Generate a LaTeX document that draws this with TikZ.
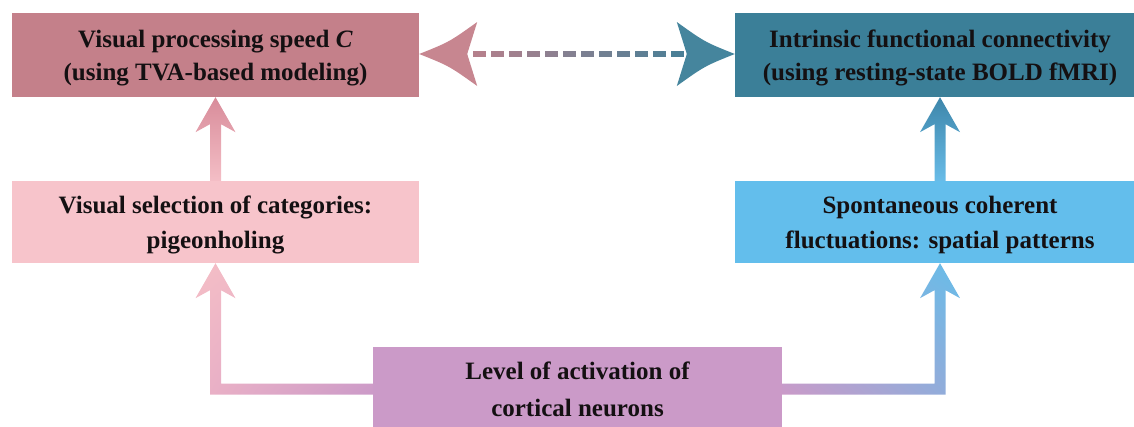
\documentclass[tikz,border=0pt]{standalone}
\usepackage{fontspec}
\setmainfont{Liberation Serif}
\usetikzlibrary{calc,shadings}

\definecolor{speedcol}{RGB}{196,128,138}
\definecolor{conncol}{RGB}{59,127,152}
\definecolor{selcol}{RGB}{247,196,203}
\definecolor{fluctcol}{RGB}{99,190,236}
\definecolor{levelcol}{RGB}{203,154,200}
\definecolor{textcol}{RGB}{20,16,18}
% arrow colours
\definecolor{selarrow}{RGB}{244,190,198}
\definecolor{speedarrow}{RGB}{216,140,154}
\definecolor{fluctarrow}{RGB}{104,188,232}
\definecolor{connarrow}{RGB}{62,134,170}
\definecolor{leftmid}{RGB}{236,178,198}
\definecolor{rightmid}{RGB}{140,174,220}

\tikzset{
	flowbox/.style={rectangle, inner sep=0pt, minimum height=84pt, align=center,
		text=textcol, text height=#1pt+17pt, text depth=0pt,
		font=\bfseries\fontsize{25}{#1}\selectfont},
	flowbox/.default=33,
}

\begin{document}
\begin{tikzpicture}[x=1pt,y=-1pt]
	\useasboundingbox (0,0) rectangle (1134,426);
	\clip (0,0) rectangle (1134,426);

	% boxes
	\node[flowbox, fill=speedcol, minimum width=407pt] (speed) at (215.5,55)
		{Visual processing speed \textit{C}\\(using TVA-based modeling)};
	\node[flowbox, fill=conncol, minimum width=410pt] (conn) at (940,55)
		{Intrinsic functional connectivity\\(using resting-state BOLD fMRI)};
	\node[flowbox=35, fill=selcol, minimum width=407pt, minimum height=82pt] (sel) at (215.5,222)
		{Visual selection of categories:\\pigeonholing};
	\node[flowbox=35, fill=fluctcol, minimum width=410pt, minimum height=82pt] (fluct) at (940,222)
		{Spontaneous coherent\\fluctuations: spatial patterns};
	\node[flowbox=37, fill=levelcol, minimum width=409pt] (level) at (577.5,389)
		{Level of activation of\\cortical neurons};

	% upward arrows
	\shade[bottom color=selarrow, top color=speedarrow]
		let \p1=(sel.north), \p2=(speed.south) in
		(\x1-5.5pt,\y1) -- (\x1-5.5pt,\y2-27pt) -- (\x1-20pt,\y2-35pt) -- (\x1,\y2)
		-- (\x1+20pt,\y2-35pt) -- (\x1+5.5pt,\y2-27pt) -- (\x1+5.5pt,\y1) -- cycle;
	\shade[bottom color=fluctarrow, top color=connarrow]
		let \p1=(fluct.north), \p2=(conn.south) in
		(\x1-5.5pt,\y1) -- (\x1-5.5pt,\y2-27pt) -- (\x1-20pt,\y2-35pt) -- (\x1,\y2)
		-- (\x1+20pt,\y2-35pt) -- (\x1+5.5pt,\y2-27pt) -- (\x1+5.5pt,\y1) -- cycle;

	% elbow arrows from the bottom box
	\shade[upper left=selarrow, lower right=levelcol, upper right=leftmid, lower left=leftmid]
		let \p1=(level.west), \p2=(sel.south) in
		(\x1,\y1+5.5pt) -- (\x2+5.5pt,\y1+5.5pt) -- (\x2+5.5pt,\y2-27pt) -- (\x2+20pt,\y2-35pt)
		-- (\x2,\y2) -- (\x2-20pt,\y2-35pt)
		-- (\x2-5.5pt,\y2-27pt) -- (\x2-5.5pt,\y1-5.5pt) -- (\x1,\y1-5.5pt) -- cycle;
	\shade[upper right=fluctarrow, lower left=levelcol, upper left=rightmid, lower right=rightmid]
		let \p1=(level.east), \p2=(fluct.south) in
		(\x1,\y1+5.5pt) -- (\x2-5.5pt,\y1+5.5pt) -- (\x2-5.5pt,\y2-27pt) -- (\x2-20pt,\y2-35pt)
		-- (\x2,\y2) -- (\x2+20pt,\y2-35pt)
		-- (\x2+5.5pt,\y2-27pt) -- (\x2+5.5pt,\y1-5.5pt) -- (\x1,\y1-5.5pt) -- cycle;

	% dashed double arrow
	\fill[speedcol!95!white]
		let \p1=(speed.east) in
		(\x1,\y1+1pt) .. controls (\x1+30pt,\y1+13pt) .. (\x1+58pt,\y1+33pt)
		-- (\x1+48pt,\y1+1pt) -- (\x1+58pt,\y1-31pt)
		.. controls (\x1+30pt,\y1-11pt) .. (\x1,\y1+1pt) -- cycle;
	\fill[conncol!95!white]
		let \p1=(conn.west) in
		(\x1,\y1+1pt) .. controls (\x1-30pt,\y1+13pt) .. (\x1-58pt,\y1+33pt)
		-- (\x1-48pt,\y1+1pt) -- (\x1-58pt,\y1-31pt)
		.. controls (\x1-30pt,\y1-11pt) .. (\x1,\y1+1pt) -- cycle;
	\foreach \i in {0,...,11}{
		\pgfmathsetmacro{\mix}{88-\i*76/11}
		\fill[speedcol!\mix!conncol] ($(speed.east)+(54+\i*18,-4)$) rectangle ++(12.5,6);
	}
\end{tikzpicture}
\end{document}
